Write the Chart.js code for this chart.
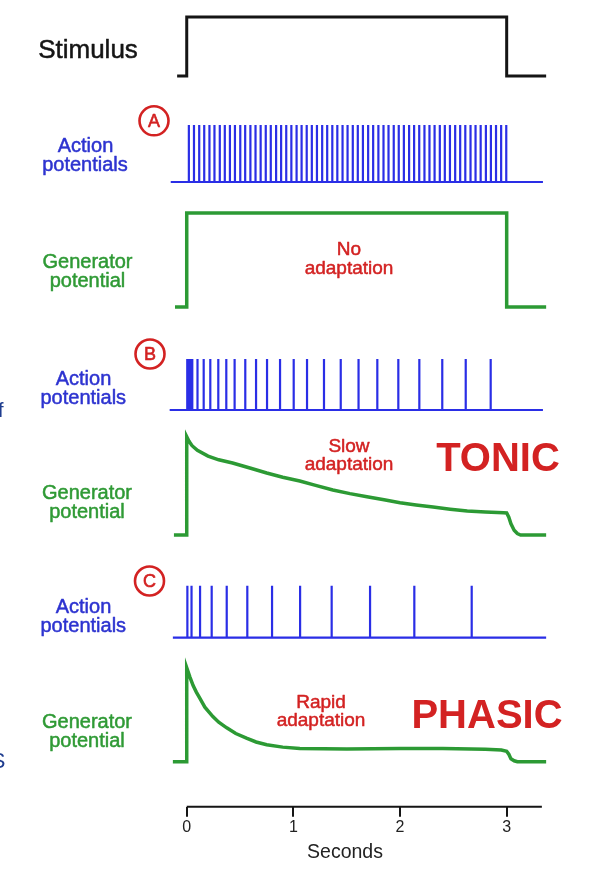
<!DOCTYPE html>
<html><head><meta charset="utf-8">
<script src="https://cdn.jsdelivr.net/npm/chart.js@4.4.1/dist/chart.umd.min.js"></script>
<style>html,body{margin:0;padding:0;background:#fff;}canvas{display:block;}</style>
</head><body>
<canvas id="c" width="601" height="876"></canvas>
<script>
// ---------------- DATA (time in seconds) ----------------
const xTicks = [0, 1, 2, 3];

const stimT = [-0.09, 0, 0, 3.0, 3.0, 3.37];
const stimV = [0, 0, 1, 1, 0, 0];

// Receptor A: no adaptation
const apSpanA = [-0.15, 3.34];
const apTimesA = [0.02, 0.068, 0.117, 0.164, 0.213, 0.26, 0.31, 0.357, 0.405, 0.452, 0.502, 0.548, 0.597, 0.645, 0.693, 0.741, 0.788, 0.838, 0.885, 0.933, 0.981,
  1.03, 1.077, 1.125, 1.173, 1.221, 1.27, 1.317, 1.365, 1.412, 1.461, 1.508, 1.557, 1.604, 1.652, 1.701, 1.748, 1.797, 1.845, 1.892, 1.941, 1.988,
  2.036, 2.085, 2.132, 2.18, 2.229, 2.276, 2.324, 2.373, 2.42, 2.468, 2.517, 2.564, 2.612, 2.661, 2.708, 2.756, 2.805, 2.852, 2.9, 2.948, 2.996];
const genAT = [-0.11, 0, 0, 3.0, 3.0, 3.37];
const genAV = [0, 0, 1, 1, 0, 0];

// Receptor B: slow adaptation (tonic)
const apSpanB = [-0.16, 3.34];
const apTimesB = [0.005, 0.017, 0.034, 0.052, 0.101, 0.159, 0.221, 0.296, 0.371, 0.449, 0.549, 0.65, 0.753, 0.875,
  1.003, 1.128, 1.287, 1.444, 1.611, 1.787, 1.984, 2.181, 2.396, 2.616, 2.85];
const genBT = [-0.12, 0, 0, 0.02, 0.05, 0.1, 0.2, 0.3, 0.43, 0.6, 0.75, 0.9, 1.06, 1.2, 1.37, 1.53, 1.69, 1.85, 2.0, 2.15, 2.31, 2.47, 2.63, 2.8, 2.97, 3.0, 3.02, 3.04, 3.07, 3.1, 3.13, 3.37];
const genBV = [0, 0, 1.046, 1.0, 0.95, 0.9, 0.84, 0.8, 0.766, 0.71, 0.66, 0.615, 0.574, 0.53, 0.479, 0.44, 0.407, 0.375, 0.344, 0.32, 0.298, 0.275, 0.255, 0.245, 0.237, 0.234, 0.19, 0.12, 0.05, 0.015, 0, 0];

// Receptor C: rapid adaptation (phasic)
const apSpanC = [-0.13, 3.37];
const apTimesC = [0.006, 0.045, 0.125, 0.234, 0.375, 0.568, 0.8, 1.063, 1.359, 1.719, 2.134, 2.672];
const genCT = [-0.13, 0, 0, 0.03, 0.06, 0.09, 0.125, 0.17, 0.245, 0.3, 0.375, 0.46, 0.56, 0.65, 0.75, 0.9, 1.06, 1.5, 2.0, 2.4, 2.8, 2.95, 3.0, 3.02, 3.04, 3.07, 3.1, 3.37];
const genCV = [0, 0, 1.0, 0.9, 0.81, 0.74, 0.67, 0.58, 0.48, 0.42, 0.36, 0.3, 0.25, 0.21, 0.18, 0.155, 0.14, 0.135, 0.14, 0.14, 0.132, 0.124, 0.11, 0.08, 0.03, 0.01, 0, 0];

const timeAxisSpan = [0, 3.33];

// ---------------- LAYOUT / STYLE ----------------
const FONT = "'Liberation Sans', Arial, Helvetica, sans-serif";
const C_BLACK = '#151515', C_BLUE = '#2a2ee6', C_GREEN = '#2c9a34', C_RED = '#d32222';
const C_LBLUE = '#2d33d0', C_LGREEN = '#2f9a35';
const X_MIN = -0.17, X_MAX = 3.138;
const PLOT_TOP = 0, PLOT_BOTTOM = 806.8;
// [baseline pixel row, pixels per unit] for each trace band
const TRACK = {
  stim: [76, 59], apA: [182, 57], genA: [307, 94],
  apB: [410, 51], genB: [535, 94], apC: [637.7, 52], genC: [761.7, 94]
};
function trackScale(k) {
  const [base, unit] = TRACK[k];
  const H = PLOT_BOTTOM - PLOT_TOP;
  const max = (base - PLOT_TOP) / unit;
  return { type: 'linear', display: false, min: max - H / unit, max: max };
}

const zip = (xs, ys) => xs.map((x, i) => ({ x: x, y: ys[i] }));
function spikeTrain(span, times) {
  const pts = [{ x: span[0], y: 0 }];
  for (const t of times) pts.push({ x: t, y: 0 }, { x: t, y: 1 }, { x: t, y: 0 });
  pts.push({ x: span[1], y: 0 });
  return pts;
}
const ds = (data, yAxisID, color, w) => ({
  data, yAxisID, xAxisID: 'x', borderColor: color, borderWidth: w, pointRadius: 0,
  tension: 0, fill: false, clip: false, borderJoinStyle: 'miter', borderCapStyle: 'butt'
});

const labels = [
  ['Stimulus', 88, 58, '26px', C_BLACK, ''],
  ['Action', 85.5, 152, '20px', C_LBLUE, ''], ['potentials', 85, 170.5, '20px', C_LBLUE, ''],
  ['Generator', 87.5, 268, '20px', C_LGREEN, ''], ['potential', 87.5, 287, '20px', C_LGREEN, ''],
  ['No', 349, 255, '19px', C_RED, ''], ['adaptation', 349, 274, '19px', C_RED, ''],
  ['Action', 83.5, 385, '20px', C_LBLUE, ''], ['potentials', 83.3, 403.5, '20px', C_LBLUE, ''],
  ['Generator', 87, 499, '20px', C_LGREEN, ''], ['potential', 87, 517.5, '20px', C_LGREEN, ''],
  ['Slow', 349, 451.5, '19px', C_RED, ''], ['adaptation', 349, 469.5, '19px', C_RED, ''],
  ['TONIC', 498, 470.5, '40px', C_RED, 'bold '],
  ['Action', 83.5, 613.3, '20px', C_LBLUE, ''], ['potentials', 83.3, 632, '20px', C_LBLUE, ''],
  ['Generator', 87, 728, '20px', C_LGREEN, ''], ['potential', 87, 746.5, '20px', C_LGREEN, ''],
  ['Rapid', 321, 708, '19px', C_RED, ''], ['adaptation', 321, 726, '19px', C_RED, ''],
  ['PHASIC', 487, 728, '40px', C_RED, 'bold ']
];
const circles = [['A', 154, 120.8], ['B', 150, 354], ['C', 149.5, 581]];

const annotate = {
  id: 'annotate',
  afterDraw(chart) {
    const ctx = chart.ctx;
    ctx.save();
    ctx.textAlign = 'center';
    ctx.textBaseline = 'alphabetic';
    ctx.lineJoin = 'round';
    for (const [t, x, y, size, col, w] of labels) {
      ctx.font = w + size + ' ' + FONT;
      ctx.fillStyle = col;
      ctx.fillText(t, x, y);
      if (!w) { ctx.strokeStyle = col; ctx.lineWidth = 0.5; ctx.strokeText(t, x, y); }
    }
    for (const [t, x, y] of circles) {
      ctx.beginPath();
      ctx.arc(x, y, 14.5, 0, Math.PI * 2);
      ctx.strokeStyle = C_RED; ctx.lineWidth = 2.6; ctx.stroke();
      ctx.font = '18px ' + FONT; ctx.fillStyle = C_RED;
      ctx.textBaseline = 'middle';
      ctx.fillText(t, x, y + 0.8);
      ctx.lineWidth = 0.6; ctx.strokeText(t, x, y + 0.8);
      ctx.textBaseline = 'alphabetic';
    }
    // clipped fragments at the left edge
    ctx.textAlign = 'right';
    ctx.font = '22px ' + FONT; ctx.fillStyle = '#1f3d8f';
    ctx.fillText('S', 5.5, 768);
    ctx.font = '20px ' + FONT;
    ctx.fillText('f', 3.5, 417);
    ctx.restore();
  }
};

const scales = {
  x: {
    type: 'linear', min: X_MIN, max: X_MAX,
    border: { display: false },
    grid: { drawOnChartArea: false, drawTicks: true, tickLength: 10, color: C_BLACK, lineWidth: 2 },
    ticks: { color: '#222', font: { family: FONT, size: 16 }, padding: 1 },
    afterBuildTicks: s => { s.ticks = xTicks.map(v => ({ value: v })); },
    title: { display: true, text: 'Seconds', color: '#222', font: { family: FONT, size: 19.5 }, padding: { top: 3, bottom: 11.6 } }
  },
  tAxis: { type: 'linear', display: false, min: 0, max: 1 }
};
for (const k of Object.keys(TRACK)) scales[k] = trackScale(k);

new Chart(document.getElementById('c'), {
  type: 'line',
  data: {
    datasets: [
      ds(zip(stimT, stimV), 'stim', C_BLACK, 3),
      ds(spikeTrain(apSpanA, apTimesA), 'apA', C_BLUE, 2.2),
      ds(zip(genAT, genAV), 'genA', C_GREEN, 3.5),
      ds(spikeTrain(apSpanB, apTimesB), 'apB', C_BLUE, 2.2),
      ds(zip(genBT, genBV), 'genB', C_GREEN, 3.5),
      ds(spikeTrain(apSpanC, apTimesC), 'apC', C_BLUE, 2.2),
      ds(zip(genCT, genCV), 'genC', C_GREEN, 3.5),
      ds(timeAxisSpan.map(x => ({ x: x, y: 0 })), 'tAxis', C_BLACK, 2)
    ]
  },
  options: {
    responsive: false, animation: false, devicePixelRatio: 1, events: [],
    layout: { padding: { left: 168.6, right: 79.6, top: PLOT_TOP, bottom: 0 } },
    plugins: { legend: { display: false }, tooltip: { enabled: false } },
    scales: scales
  },
  plugins: [annotate]
});
</script>
</body></html>
